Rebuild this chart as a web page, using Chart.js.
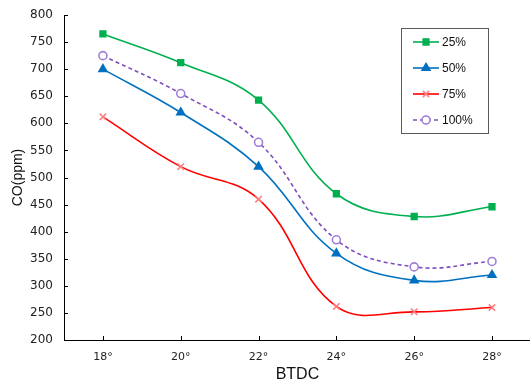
<!DOCTYPE html>
<html>
<head>
<meta charset="utf-8">
<script src="https://cdn.jsdelivr.net/npm/chart.js@4.4.1/dist/chart.umd.min.js"></script>
<style>
  html, body { margin: 0; padding: 0; background: #fff; overflow: hidden; }
  #wrap { width: 530px; height: 382px; overflow: hidden; }
</style>
</head>
<body>
<div id="wrap"><canvas id="coChart" width="537" height="382"></canvas></div>
<script>
const categories = ["18°", "20°", "22°", "24°", "26°", "28°"];
const load25 = [765, 712, 643, 470, 428, 446];
const load50 = [700, 620, 520, 360, 310, 320];
const load75 = [612, 520, 460, 262, 252, 260];
const load100 = [725, 655, 565, 385, 335, 345];
const seriesLabels = ["25%", "50%", "75%", "100%"];

const fontFamily = "'Liberation Sans', Arial, sans-serif";
const tickFamily = "'DejaVu Sans', Verdana, sans-serif";

// inward tick marks like the original
const innerTicks = {
    id: "innerTicks",
    afterDraw(chart) {
        const ctx = chart.ctx;
        const x = chart.scales.x, y = chart.scales.y;
        ctx.save();
        ctx.strokeStyle = "#000";
        ctx.lineWidth = 1;
        ctx.beginPath();
        x.ticks.forEach((t, i) => {
            const px = Math.round(x.getPixelForTick(i)) + 0.5;
            ctx.moveTo(px, y.bottom);
            ctx.lineTo(px, y.bottom - 4);
        });
        y.ticks.forEach((t, i) => {
            const py = Math.round(y.getPixelForTick(i)) + 0.5;
            ctx.moveTo(x.left, py);
            ctx.lineTo(x.left + 4, py);
        });
        ctx.stroke();
        ctx.restore();
    }
};

// legend box drawn inside the plot
const boxLegend = {
    id: "boxLegend",
    afterDraw(chart) {
        const ctx = chart.ctx;
        const left = 401, top = 28, w = 87, h = 105;
        ctx.save();
        ctx.fillStyle = "#fff";
        ctx.fillRect(left, top, w, h);
        ctx.strokeStyle = "#5a5a5a";
        ctx.lineWidth = 1;
        ctx.strokeRect(left + 0.5, top + 0.5, w, h);
        chart.data.datasets.forEach((ds, i) => {
            const cy = 42 + i * 26;
            ctx.strokeStyle = ds.borderColor;
            ctx.lineWidth = ds.borderWidth;
            ctx.setLineDash(ds.borderDash || []);
            ctx.beginPath();
            ctx.moveTo(413, cy);
            ctx.lineTo(439, cy);
            ctx.stroke();
            ctx.setLineDash([]);
            ctx.fillStyle = ds.pointBackgroundColor;
            ctx.strokeStyle = ds.pointBorderColor;
            Chart.helpers.drawPoint(ctx, {
                pointStyle: ds.pointStyle,
                radius: ds.pointRadius,
                borderWidth: 1
            }, 426, cy);
            ctx.fillStyle = "#111";
            ctx.font = "12px " + fontFamily;
            ctx.textBaseline = "middle";
            ctx.textAlign = "left";
            ctx.fillText(ds.label, 442, cy + 1);
        });
        ctx.restore();
    }
};

new Chart(document.getElementById("coChart"), {
    type: "line",
    data: {
        labels: categories,
        datasets: [
            {
                label: seriesLabels[0], data: load25,
                borderColor: "#00b050", borderWidth: 1.6,
                pointStyle: "rect", pointRadius: 4,
                pointBackgroundColor: "#00b050", pointBorderColor: "#00b050"
            },
            {
                label: seriesLabels[1], data: load50,
                borderColor: "#0070c0", borderWidth: 1.6,
                pointStyle: "triangle", pointRadius: 4.5,
                pointBackgroundColor: "#0070c0", pointBorderColor: "#0070c0"
            },
            {
                label: seriesLabels[2], data: load75,
                borderColor: "#ff0000", borderWidth: 1.6,
                pointStyle: "crossRot", pointRadius: 4.5,
                pointBackgroundColor: "#ff8080", pointBorderColor: "#ff8080"
            },
            {
                label: seriesLabels[3], data: load100,
                borderColor: "#7f4fc0", borderWidth: 1.6, borderDash: [4, 3],
                pointStyle: "circle", pointRadius: 4,
                pointBackgroundColor: "#fff", pointBorderColor: "#a27fd6"
            }
        ]
    },
    options: {
        responsive: false,
        animation: false,
        layout: { padding: { top: 15, right: 0, bottom: 0, left: 0 } },
        elements: { line: { tension: 0.4 } },
        plugins: { legend: { display: false }, tooltip: { enabled: false } },
        scales: {
            x: {
                offset: true,
                grid: { display: false },
                border: { display: true, color: "#000", width: 1 },
                ticks: { color: "#222", font: { family: tickFamily, size: 11 }, padding: 3 },
                title: {
                    display: true, text: "BTDC", color: "#111",
                    font: { family: fontFamily, size: 16 }, padding: { top: 0, bottom: -2 }
                },
                afterFit(scale) { scale.height = 42; }
            },
            y: {
                min: 200, max: 800,
                grid: { display: false },
                border: { display: true, color: "#000", width: 1 },
                ticks: { stepSize: 50, color: "#222", font: { family: tickFamily, size: 12 }, padding: 3 },
                title: {
                    display: true, text: "CO(ppm)", color: "#111",
                    font: { family: fontFamily, size: 14 }, padding: { top: 10, bottom: 0 }
                },
                afterFit(scale) { scale.width = 64; }
            }
        }
    },
    plugins: [innerTicks, boxLegend]
});
</script>
</body>
</html>
